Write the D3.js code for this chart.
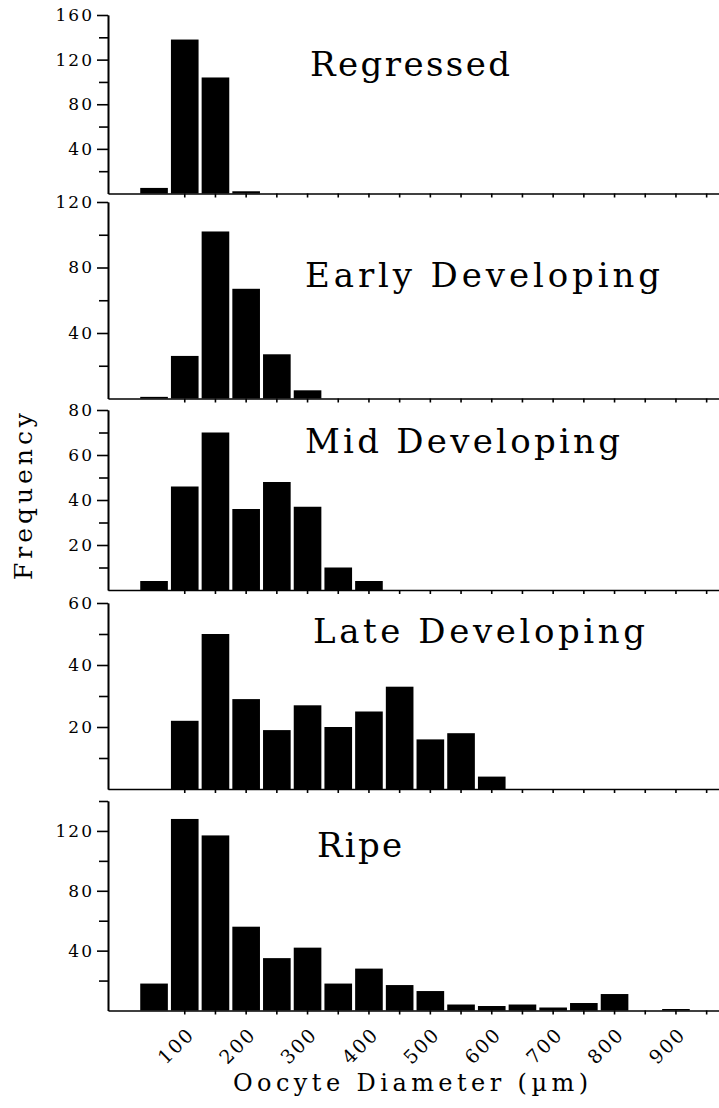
<!DOCTYPE html>
<html>
<head>
<meta charset="utf-8">
<script src="https://cdn.jsdelivr.net/npm/d3@7"></script>
<style>
  body { margin: 0; background: #fff; }
  svg { display: block; }
  .axis text { font-family: "DejaVu Serif", serif; font-size: 17px; fill: #000; letter-spacing: 2px; }
  .axis path, .axis line { stroke: #000; stroke-width: 1.6; }
  .title { font-family: "DejaVu Serif", serif; font-size: 34px; fill: #000; }
  .label { font-family: "DejaVu Serif", serif; fill: #000; }
</style>
</head>
<body>
<div class="chart"></div>
<script>

// bin centres, oocyte diameter in um (50 um classes)
var bins = [0, 50, 100, 150, 200, 250, 300, 350, 400, 450, 500, 550, 600, 650, 700, 750, 800, 850, 900, 950];

var regressed = [0, 5, 138, 104, 2, 0, 0, 0, 0, 0, 0, 0, 0, 0, 0, 0, 0, 0, 0, 0];
var earlyDev  = [0, 1, 26, 102, 67, 27, 5, 0, 0, 0, 0, 0, 0, 0, 0, 0, 0, 0, 0, 0];
var midDev    = [0, 4, 46, 70, 36, 48, 37, 10, 4, 0, 0, 0, 0, 0, 0, 0, 0, 0, 0, 0];
var lateDev   = [0, 0, 22, 50, 29, 19, 27, 20, 25, 33, 16, 18, 4, 0, 0, 0, 0, 0, 0, 0];
var ripe      = [0, 18, 128, 117, 56, 35, 42, 18, 28, 17, 13, 4, 3, 4, 2, 5, 11, 0, 1, 0];

var stageNames = ["Regressed", "Early Developing", "Mid Developing", "Late Developing", "Ripe"];
var yMax = [160, 120, 80, 60, 140];
var yMajor = [[40, 80, 120, 160], [40, 80, 120], [20, 40, 60, 80], [20, 40, 60], [40, 80, 120]];
var yMinor = [[20, 60, 100, 140], [20, 60, 100], [10, 30, 50, 70], [10, 30, 50], [20, 60, 100, 140]];

var xTicks = [100, 150, 200, 250, 300, 350, 400, 450, 500, 550, 600, 650, 700, 750, 800, 850, 900, 950];
var xLabels = [100, 200, 300, 400, 500, 600, 700, 800, 900];

var series = [regressed, earlyDev, midDev, lateDev, ripe];

// page layout (pixels)
var W = 719, H = 1108;
var axisLeft = 108, axisRight = 722;
var panelTop    = [15, 202, 410, 603, 801];
var panelBottom = [193.5, 398.5, 590, 789, 1010.5];
var titleX      = [310, 305, 305, 313, 317];
var titleY      = [76, 287, 453, 643, 857];
var titleW      = [200, 355, 315, 332, 85];

var svg = d3.select(".chart").append("svg")
    .attr("width", W)
    .attr("height", H);

var x = d3.scaleBand()
    .domain(bins)
    .range([axisLeft, axisRight])
    .paddingInner(0.1)
    .paddingOuter(0.05);

series.forEach(function (values, i) {
  var y = d3.scaleLinear()
      .domain([0, yMax[i]])
      .range([panelBottom[i], panelTop[i]]);

  var g = svg.append("g");

  g.selectAll(".bar")
    .data(values)
    .enter().append("rect")
      .attr("class", "bar")
      .attr("x", function (d, k) { return x(bins[k]); })
      .attr("width", x.bandwidth())
      .attr("y", function (d) { return y(d); })
      .attr("height", function (d) { return y(0) - y(d); })
      .attr("fill", "#000");

  // minor ticks first, then the labelled ones
  g.append("g")
    .attr("class", "axis")
    .attr("transform", "translate(" + axisLeft + ",0)")
    .call(d3.axisLeft(y).tickValues(yMinor[i]).tickSize(9).tickSizeOuter(0).tickFormat(""));

  g.append("g")
    .attr("class", "axis")
    .attr("transform", "translate(" + axisLeft + ",0)")
    .call(d3.axisLeft(y).tickValues(yMajor[i]).tickSize(11).tickPadding(3).tickSizeOuter(0));

  var xAxis = g.append("g")
    .attr("class", "axis")
    .attr("transform", "translate(0," + panelBottom[i] + ")")
    .call(d3.axisBottom(x).tickValues(xTicks).tickSize(4).tickSizeOuter(0)
      .tickFormat(function (v) { return (i === 4 && xLabels.indexOf(v) >= 0) ? v : ""; }));

  if (i === 4) {
    xAxis.selectAll("text")
      .attr("text-anchor", "end")
      .attr("dy", 0)
      .style("font-size", "19px")
      .attr("transform", "translate(6,20) rotate(-45)");
  }

  g.append("text")
    .attr("class", "title")
    .attr("x", titleX[i])
    .attr("y", titleY[i])
    .attr("textLength", titleW[i])
    .attr("lengthAdjust", "spacing")
    .text(stageNames[i]);
});

svg.append("text")
  .attr("class", "label")
  .attr("font-size", 25)
  .attr("transform", "translate(32,580) rotate(-90)")
  .attr("textLength", 167)
  .attr("lengthAdjust", "spacing")
  .text("Frequency");

svg.append("text")
  .attr("class", "label")
  .attr("font-size", 24)
  .attr("x", 233)
  .attr("y", 1091)
  .attr("textLength", 355)
  .attr("lengthAdjust", "spacing")
  .text("Oocyte Diameter (\u00b5m)");

</script>
</body>
</html>
